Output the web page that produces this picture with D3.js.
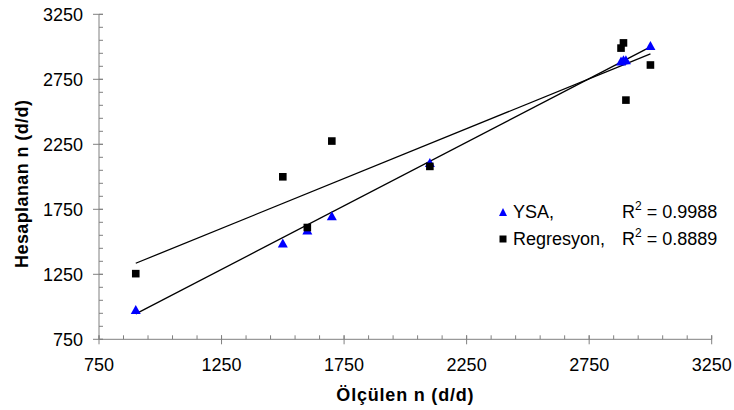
<!DOCTYPE html>
<html>
<head>
<meta charset="utf-8">
<script src="https://cdn.jsdelivr.net/npm/d3@7"></script>
<style>
  html, body { margin: 0; padding: 0; background: #fff; }
  svg { display: block; font-family: "Liberation Sans", Arial, sans-serif; }
</style>
</head>
<body>
<svg id="chart" width="734" height="410"></svg>
<script>
// ---- data ----
const measured   = [900, 1500, 1600, 1700, 2100, 2880, 2890, 2900, 3000];
const ysa        = [980, 1490, 1590, 1700, 2110, 2890, 2900, 2900, 3010];
const regresyon  = [1255, 2000, 1610, 2275, 2080, 2990, 3030, 2590, 2860];
const trendX     = [900, 3000];
const ysaTrend   = [945, 3000];
const regTrend   = [1335, 2945];
const tickValues = [750, 1250, 1750, 2250, 2750, 3250];
const minorTicks = d3.range(750, 3251, 100);
const legendNames = ["YSA,", "Regresyon,"];
const legendR2    = ["0.9988", "0.8889"];
const xTitle = "Ölçülen n (d/d)";
const yTitle = "Hesaplanan n (d/d)";

const svg = d3.select("#chart");
const x = d3.scaleLinear().domain([750, 3250]).range([99, 711.7]);
const y = d3.scaleLinear().domain([750, 3250]).range([339.3, 14.3]);
const axisColor = "#808080";
const fontSize = 18;

// ---- axes ----
const gx = svg.append("g").attr("transform", `translate(0,${y(750)})`);
gx.append("line").attr("x1", x(750)).attr("x2", x(3250)).attr("stroke", axisColor);
gx.selectAll("line.minor").data(minorTicks).join("line")
  .attr("class", "minor")
  .attr("x1", d => x(d)).attr("x2", d => x(d))
  .attr("y1", -4).attr("y2", 0).attr("stroke", axisColor);
gx.selectAll("line.major").data(tickValues).join("line")
  .attr("class", "major")
  .attr("x1", d => x(d)).attr("x2", d => x(d))
  .attr("y1", -4).attr("y2", 5).attr("stroke", axisColor);
gx.selectAll("text").data(tickValues).join("text")
  .attr("x", d => x(d)).attr("y", 32)
  .attr("text-anchor", "middle").attr("font-size", fontSize).attr("fill", "#000")
  .text(d => d);

const gy = svg.append("g").attr("transform", `translate(${x(750)},0)`);
gy.append("line").attr("y1", y(750)).attr("y2", y(3250)).attr("stroke", axisColor);
gy.selectAll("line.minor").data(minorTicks).join("line")
  .attr("class", "minor")
  .attr("y1", d => y(d)).attr("y2", d => y(d))
  .attr("x1", 0).attr("x2", 4).attr("stroke", axisColor);
gy.selectAll("line.major").data(tickValues).join("line")
  .attr("class", "major")
  .attr("y1", d => y(d)).attr("y2", d => y(d))
  .attr("x1", -6).attr("x2", 4).attr("stroke", axisColor);
gy.selectAll("text").data(tickValues).join("text")
  .attr("x", -16).attr("y", d => y(d)).attr("dy", "0.36em")
  .attr("text-anchor", "end").attr("font-size", fontSize).attr("fill", "#000")
  .text(d => d);

// ---- axis titles ----
svg.append("text")
  .attr("x", (x(750) + x(3250)) / 2).attr("y", 401)
  .attr("text-anchor", "middle").attr("font-size", 18).attr("font-weight", "bold")
  .attr("letter-spacing", 0.8)
  .text(xTitle);
svg.append("text")
  .attr("transform", `translate(28,${(y(750) + y(3250)) / 2 + 7}) rotate(-90)`)
  .attr("text-anchor", "middle").attr("font-size", 18).attr("font-weight", "bold")
  .attr("letter-spacing", 0.4)
  .text(yTitle);

// ---- trend lines ----
const line = d3.line().x(d => x(d[0])).y(d => y(d[1]));
svg.append("path").datum(d3.zip(trendX, regTrend))
  .attr("d", line).attr("fill", "none").attr("stroke", "#000").attr("stroke-width", 1.3);
svg.append("path").datum(d3.zip(trendX, ysaTrend))
  .attr("d", line).attr("fill", "none").attr("stroke", "#000").attr("stroke-width", 1.3);

// ---- markers ----
function triPath(cx, cy, w, h) {
  return `M${cx},${cy - h / 2}L${cx + w / 2},${cy + h / 2}L${cx - w / 2},${cy + h / 2}Z`;
}
svg.append("g").selectAll("path").data(d3.zip(measured, ysa)).join("path")
  .attr("d", d => triPath(x(d[0]), y(d[1]), 10, 9))
  .attr("fill", "#0000ff");
svg.append("g").selectAll("rect").data(d3.zip(measured, regresyon)).join("rect")
  .attr("x", d => x(d[0]) - 3.8).attr("y", d => y(d[1]) - 3.8)
  .attr("width", 7.6).attr("height", 7.6).attr("fill", "#000");

// ---- legend ----
const legY = [212, 239];
const lg = svg.append("g");
lg.append("path").attr("d", triPath(503, legY[0], 8, 8)).attr("fill", "#0000ff");
lg.append("rect").attr("x", 499.5).attr("y", legY[1] - 3.5).attr("width", 7).attr("height", 7).attr("fill", "#000");
legendNames.forEach((name, i) => {
  lg.append("text").attr("x", 513).attr("y", legY[i]).attr("dy", "0.36em")
    .attr("font-size", fontSize).text(name);
  const t = lg.append("text").attr("x", 622).attr("y", legY[i]).attr("dy", "0.36em")
    .attr("font-size", fontSize);
  t.append("tspan").text("R");
  t.append("tspan").attr("font-size", 12).attr("dy", "-0.7em").text("2");
  t.append("tspan").attr("dy", "0.45em").text(" = " + legendR2[i]);
});
</script>
</body>
</html>
